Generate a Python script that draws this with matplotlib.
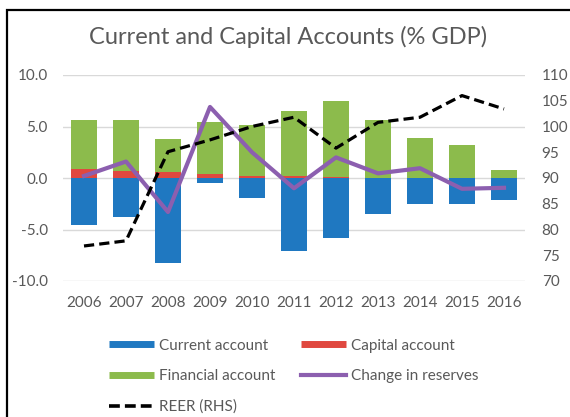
import numpy as np
import matplotlib
matplotlib.use('Agg')
import matplotlib.pyplot as plt
from matplotlib.lines import Line2D
from matplotlib.patches import Rectangle

plt.rcParams['font.family'] = ['Lato', 'DejaVu Sans']

# Balance of payments components, % of GDP
years = ['2006', '2007', '2008', '2009', '2010', '2011', '2012', '2013', '2014', '2015', '2016']
current_account = [-4.6, -3.8, -8.3, -0.5, -1.9, -7.1, -5.85, -3.45, -2.55, -2.55, -2.15]
capital_account = [0.85, 0.7, 0.55, 0.4, 0.22, 0.15, 0.08, 0.03, 0.02, 0.02, 0.02]
financial_account = [4.75, 4.9, 3.25, 5.0, 4.88, 6.35, 7.42, 5.57, 3.88, 3.23, 0.78]
reserves_change = [0.2, 1.6, -3.3, 6.9, 2.5, -1.0, 2.0, 0.45, 0.95, -1.05, -0.95]
# Real effective exchange rate index (right axis)
reer = [76.8, 77.8, 95.1, 97.4, 100.0, 101.8, 95.8, 100.8, 101.8, 106.0, 103.4]

c_blue = '#1F78C1'
c_red = '#E0483F'
c_green = '#8CBB4C'
c_purple = '#8C5FAF'
c_text = '#595959'

x = np.arange(len(years))
w = 0.64

fig = plt.figure(figsize=(5.7, 4.17), dpi=100)
ax = fig.add_axes([63 / 570, 1 - 281 / 417, 462 / 570, 206 / 417])

ax.bar(x, current_account, w, color=c_blue, zorder=2)
ax.bar(x, capital_account, w, color=c_red, zorder=2)
ax.bar(x, financial_account, w, bottom=capital_account, color=c_green, zorder=2)
ax.plot(x, reserves_change, color=c_purple, lw=3, zorder=3)

ax.set_xlim(-0.5, len(years) - 0.5)
ax.set_ylim(-10, 10)
ax.set_yticks([-10, -5, 0, 5, 10])
ax.set_yticklabels(['-10.0', '-5.0', '0.0', '5.0', '10.0'])
ax.set_xticks(x)
ax.set_xticklabels(years)
ax.grid(axis='y', color='#D9D9D9', lw=1, zorder=0)
ax.set_axisbelow(True)
for s in ax.spines.values():
    s.set_visible(False)
ax.tick_params(length=0, labelsize=11, colors=c_text, pad=11)

ax2 = ax.twinx()
ax2.plot(x, reer, color='black', lw=2.3, ls=(0, (3.2, 1.6)), zorder=4)
ax2.set_ylim(70, 110)
ax2.set_yticks(range(70, 111, 5))
for s in ax2.spines.values():
    s.set_visible(False)
ax2.tick_params(length=0, labelsize=11, colors=c_text, pad=12)

fig.text(0.505, 1 - 37 / 417, 'Current and Capital Accounts (% GDP)',
         ha='center', va='center', fontsize=17, color=c_text)

# legend: columns fill top to bottom
handles = [
    Line2D([], [], color=c_blue, lw=5, solid_capstyle='butt'),
    Line2D([], [], color=c_green, lw=5, solid_capstyle='butt'),
    Line2D([], [], color='black', lw=2.6, ls=(0, (3.0, 1.4))),
    Line2D([], [], color=c_red, lw=5, solid_capstyle='butt'),
    Line2D([], [], color=c_purple, lw=3),
]
labels = ['Current account', 'Financial account', 'REER (RHS)',
          'Capital account', 'Change in reserves']
leg = fig.legend(handles, labels, ncol=2, loc='upper left',
                 bbox_to_anchor=(101 / 570, 1 - 331 / 417), frameon=False,
                 fontsize=11, handlelength=3.0, handletextpad=0.3,
                 columnspacing=1.65, labelspacing=1.08, borderpad=0)
for t in leg.get_texts():
    t.set_color(c_text)

# chart frame
fig.add_artist(Rectangle((7 / 570, -0.1), 1.2, 1.1 - 10 / 417, transform=fig.transFigure,
                         fill=False, ec='black', lw=1.6))

fig.savefig('out.png', dpi=100)
